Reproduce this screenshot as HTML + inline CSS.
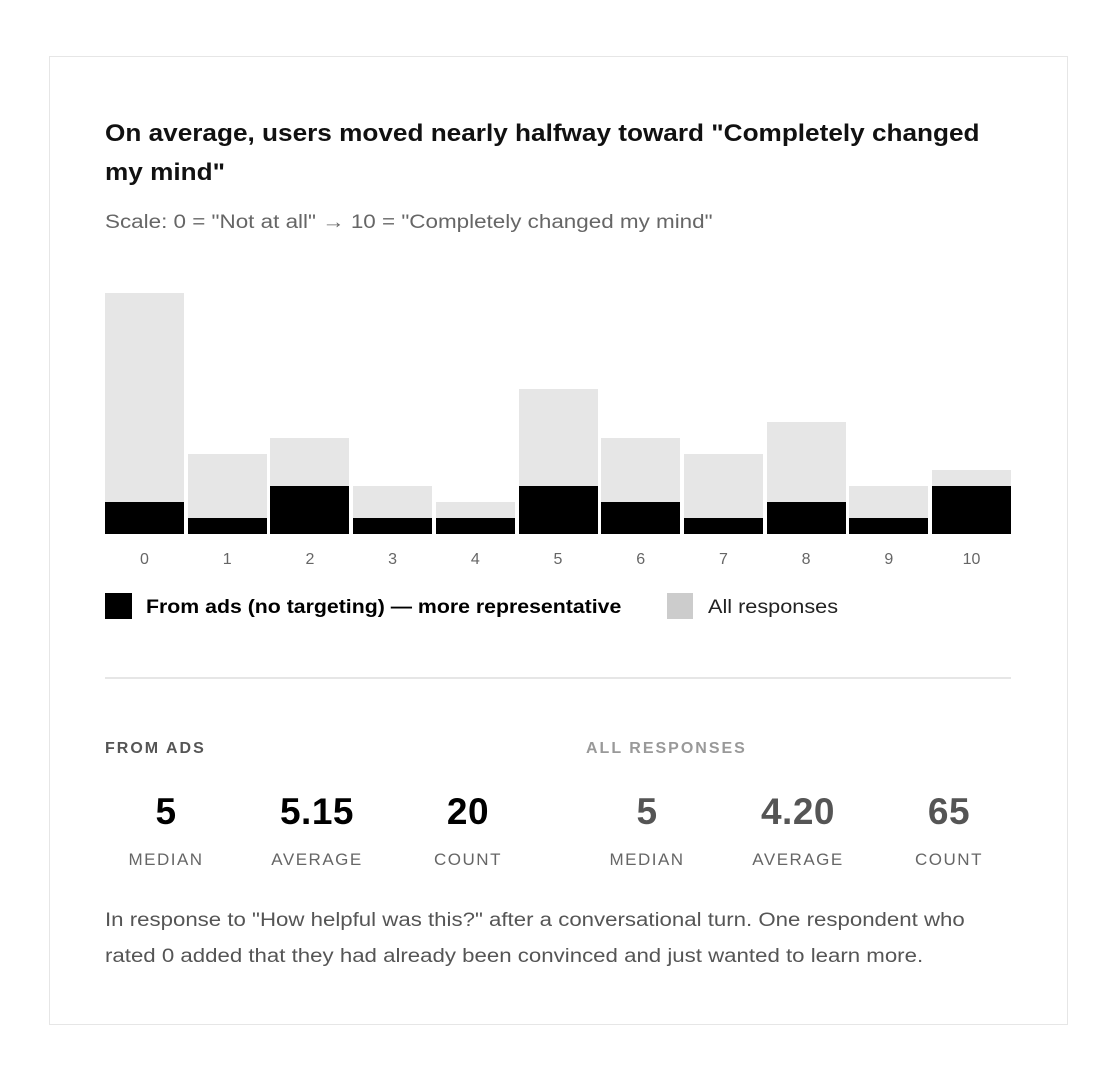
<!DOCTYPE html>
<html><head><meta charset="utf-8"><style>
body{margin:0;background:#fff;width:1117px;height:1071px;position:relative;font-family:"Liberation Sans",sans-serif;overflow:hidden}
.card{position:absolute;left:49px;top:56px;width:1019px;height:969px;border:1px solid #e6e6e6;box-sizing:border-box}
.a{position:absolute;white-space:nowrap;transform-origin:0 0}
.bar{position:absolute}
.num{position:absolute;width:150px;text-align:center;font-size:37px;font-weight:bold;top:791px;letter-spacing:0.5px}
.lab{position:absolute;width:150px;text-align:center;font-size:17px;color:#666;top:850px;letter-spacing:1.5px}
</style></head><body>
<div class="card"></div>
<div class="a" style="left:105px;top:114px;font-size:24px;font-weight:bold;line-height:39px;color:#111;transform:scaleX(1.09)">On average, users moved nearly halfway toward "Completely changed<br>my mind"</div>
<div class="a" style="left:105px;top:212px;font-size:19px;color:#666;transform:scaleX(1.18)">Scale: 0 = "Not at all" → 10 = "Completely changed my mind"</div>
<div id="bars"></div>
<div class="a" style="left:105px;top:593px;width:27px;height:26px;background:#000"></div>
<div class="a" style="left:146px;top:597px;font-size:19px;font-weight:bold;transform:scaleX(1.12)">From ads (no targeting) — more representative</div>
<div class="a" style="left:667px;top:593px;width:26px;height:26px;background:#ccc"></div>
<div class="a" style="left:708px;top:597px;font-size:19px;color:#222;transform:scaleX(1.14)">All responses</div>
<div class="a" style="left:105px;top:677px;width:906px;height:2px;background:#e6e6e6"></div>
<div class="a" style="left:105px;top:740px;font-size:16px;font-weight:bold;color:#555;letter-spacing:2px">FROM ADS</div>
<div class="a" style="left:586px;top:740px;font-size:16px;font-weight:bold;color:#999;letter-spacing:2px">ALL RESPONSES</div>
<div class="num" style="left:91px">5</div><div class="num" style="left:242px">5.15</div><div class="num" style="left:393px">20</div>
<div class="num" style="left:572px;color:#555">5</div><div class="num" style="left:723px;color:#555">4.20</div><div class="num" style="left:874px;color:#555">65</div>
<div class="lab" style="left:91px">MEDIAN</div><div class="lab" style="left:242px">AVERAGE</div><div class="lab" style="left:393px">COUNT</div>
<div class="lab" style="left:572px">MEDIAN</div><div class="lab" style="left:723px">AVERAGE</div><div class="lab" style="left:874px">COUNT</div>
<div class="a" style="left:105px;top:903px;font-size:19px;line-height:36px;color:#555;transform:scaleX(1.17)">In response to "How helpful was this?" after a conversational turn. One respondent who<br>rated 0 added that they had already been convinced and just wanted to learn more.</div>
<script>
var g=[15,5,6,3,2,9,6,5,7,3,4],b=[2,1,3,1,1,3,2,1,2,1,3],h='',u=16.07;
for(var i=0;i<11;i++){var x=105+i*82.7;
h+='<div class="bar" style="left:'+x+'px;width:79px;top:'+(534-g[i]*u)+'px;height:'+(g[i]*u)+'px;background:#e6e6e6"></div>';
h+='<div class="bar" style="left:'+x+'px;width:79px;top:'+(534-b[i]*u)+'px;height:'+(b[i]*u)+'px;background:#000"></div>';
h+='<div class="a" style="left:'+x+'px;width:79px;text-align:center;top:551px;font-size:16px;color:#666">'+i+'</div>';}
document.getElementById('bars').innerHTML=h;
</script>
</body></html>
